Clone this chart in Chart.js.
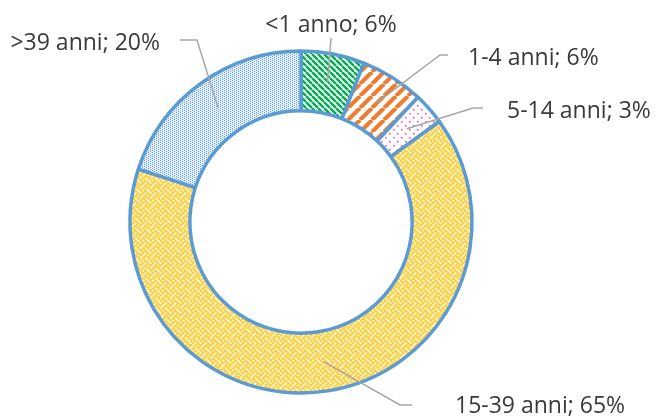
<!DOCTYPE html>
<html>
<head>
<meta charset="utf-8">
<script src="https://cdn.jsdelivr.net/npm/chart.js@4.4.1/dist/chart.umd.min.js"></script>
<style>
  html, body { margin: 0; padding: 0; background: #ffffff; }
  #wrap { width: 657px; height: 418px; position: relative; }
</style>
</head>
<body>
<div id="wrap"><canvas id="ageChart"></canvas></div>
<script>
// Data
const categories = ['<1 anno', '1-4 anni', '5-14 anni', '15-39 anni', '>39 anni'];
const shares = [6, 6, 3, 65, 20];

// Label placement (relative to the doughnut center)
const labelLayout = [
    { elbow: [30, -184], end: [30, -184], text: [30, -190], align: 'center' },
    { elbow: [139, -167], end: [147, -167], text: [167, -157], align: 'left' },
    { elbow: [172, -114], end: [182, -114], text: [206, -104], align: 'left' },
    { elbow: [99, 183], end: [111, 183], text: [154, 191], align: 'left' },
    { elbow: [-104, -182], end: [-121, -182], text: [-141, -172], align: 'right' }
];

// Fill patterns
function makeTile(w, h, drawFn) {
    const c = document.createElement('canvas');
    c.width = w;
    c.height = h;
    const g = c.getContext('2d');
    g.fillStyle = '#ffffff';
    g.fillRect(0, 0, w, h);
    drawFn(g, w, h);
    return document.createElement('canvas').getContext('2d').createPattern(c, 'repeat');
}

function stripes(color, size, width, up) {
    return makeTile(size, size, (g, s) => {
        g.strokeStyle = color;
        g.lineWidth = width;
        g.beginPath();
        for (let k = -1; k <= 1; k++) {
            if (up) {
                g.moveTo(k * s, s);
                g.lineTo(k * s + s, 0);
            } else {
                g.moveTo(k * s, 0);
                g.lineTo(k * s + s, s);
            }
        }
        g.stroke();
    });
}

const greenFill = stripes('#00B050', 6, 2.5, false);
const orangeFill = stripes('#ED7D31', 12, 4.2, true);

const pinkFill = makeTile(8, 8, (g) => {
    g.fillStyle = '#FF4FB8';
    g.fillRect(1, 1, 1.6, 1.6);
    g.fillRect(5, 5, 1.6, 1.6);
});

const weaveBits = [0x88, 0x54, 0x22, 0x45, 0x88, 0x15, 0x22, 0x51];
const yellowFill = makeTile(10, 10, (g) => {
    g.fillStyle = '#FFF1C8';
    g.fillRect(0, 0, 10, 10);
    g.fillStyle = '#FFC000';
    const p = 1.25;
    for (let r = 0; r < 8; r++) {
        for (let c = 0; c < 8; c++) {
            if (weaveBits[r] & (0x80 >> c)) g.fillRect(c * p - 0.1, r * p - 0.1, p + 0.2, p + 0.2);
        }
    }
});

const blueFill = makeTile(4, 4, (g) => {
    g.fillStyle = '#E4EEF8';
    g.fillRect(0, 0, 4, 4);
    g.fillStyle = 'rgba(91, 155, 213, 0.9)';
    g.fillRect(0, 0, 1, 1);
    g.fillRect(2, 1, 1, 1);
    g.fillRect(0, 2, 1, 1);
    g.fillRect(2, 3, 1, 1);
});

const fills = [greenFill, orangeFill, pinkFill, yellowFill, blueFill];

// Leader lines and data labels
const leaderLabels = {
    id: 'leaderLabels',
    afterDatasetsDraw(chart) {
        const ctx = chart.ctx;
        const meta = chart.getDatasetMeta(0);
        const arc0 = meta.data[0];
        const cx = arc0.x;
        const cy = arc0.y;
        ctx.save();
        meta.data.forEach((arc, i) => {
            const lay = labelLayout[i];
            const a = arc.getCenterPoint();
            ctx.strokeStyle = '#A6A6A6';
            ctx.lineWidth = 1.5;
            ctx.beginPath();
            ctx.moveTo(a.x, a.y);
            ctx.lineTo(cx + lay.elbow[0], cy + lay.elbow[1]);
            ctx.lineTo(cx + lay.end[0], cy + lay.end[1]);
            ctx.stroke();

            ctx.fillStyle = '#3A3A3A';
            ctx.font = '23px "Open Sans"';
            ctx.textAlign = lay.align;
            ctx.textBaseline = 'alphabetic';
            ctx.fillText(categories[i] + '; ' + shares[i] + '%', cx + lay.text[0], cy + lay.text[1]);
        });
        ctx.restore();
    }
};

new Chart(document.getElementById('ageChart'), {
    type: 'doughnut',
    data: {
        labels: categories,
        datasets: [{
            data: shares,
            backgroundColor: fills,
            borderColor: '#5B9BD5',
            borderWidth: 3.5,
            borderAlign: 'center'
        }]
    },
    options: {
        responsive: true,
        maintainAspectRatio: false,
        animation: false,
        cutout: '65%',
        layout: {
            padding: { top: 49.25, bottom: 23.25, left: 128.25, right: 183.25 }
        },
        plugins: {
            legend: { display: false },
            tooltip: { enabled: false }
        }
    },
    plugins: [leaderLabels]
});
</script>
</body>
</html>
